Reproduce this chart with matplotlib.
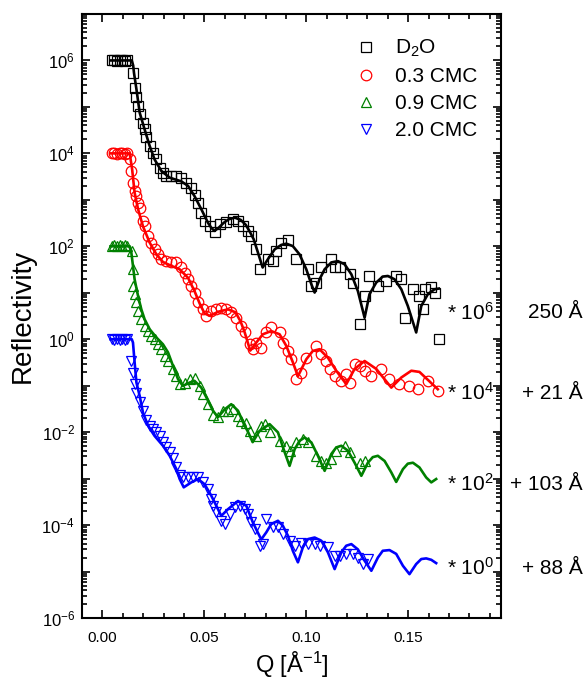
import numpy as np
import matplotlib
matplotlib.use("Agg")
import matplotlib.pyplot as plt
import matplotlib.ticker as ticker

plt.rcParams['font.family'] = ['Liberation Sans', 'DejaVu Sans']
plt.rcParams['mathtext.fontset'] = 'custom'
plt.rcParams['mathtext.rm'] = 'Liberation Sans'
plt.rcParams['mathtext.default'] = 'regular'

# --- measured data (already multiplied by the offsets shown on the right) ---
q_d2o = [0.0045, 0.0058, 0.0071, 0.0084, 0.0097, 0.0110, 0.0123, 0.0150, 0.0158, 0.0167,
         0.0175, 0.0183, 0.0199, 0.0207, 0.0216, 0.0232, 0.0248, 0.0265, 0.0281, 0.0297,
         0.0314, 0.0338, 0.0363, 0.0387, 0.0412, 0.0436, 0.0452, 0.0469, 0.0485, 0.0501,
         0.0526, 0.0550, 0.0575, 0.0608, 0.0640, 0.0665, 0.0689, 0.0714, 0.0730, 0.0755,
         0.0771, 0.0812, 0.0836, 0.0853, 0.0877, 0.0910, 0.0951, 0.1008, 0.1025, 0.1049,
         0.1074, 0.1123, 0.1139, 0.1163, 0.1212, 0.1228, 0.1261, 0.1286, 0.1310, 0.1351,
         0.1392, 0.1441, 0.1466, 0.1482, 0.1523, 0.1555, 0.1572, 0.1580, 0.1613, 0.1629,
         0.1650]
r_d2o = [1.0e6, 1.0e6, 0.98e6, 1.0e6, 1.0e6, 0.98e6, 1.0e6, 5.4e5, 2.6e5, 1.6e5,
         1.04e5, 6.9e4, 4.6e4, 3.3e4, 2.2e4, 1.44e4, 1.04e4, 7.4e3, 4.9e3, 3.8e3,
         3.3e3, 3.3e3, 3.2e3, 3.0e3, 2.3e3, 1.8e3, 1.3e3, 870, 530, 350,
         270, 200, 300, 330, 380, 350, 270, 210, 170, 86,
         33, 53, 48, 79, 120, 140, 53, 32, 14, 16.6,
         35, 53, 35, 35, 25, 16.6, 2.1, 8.5, 23, 14,
         18, 23, 19.5, 2.9, 11.9, 8.5, 4.4, 11.9, 13, 10,
         1.0]

q_03 = [0.0045, 0.0058, 0.0071, 0.0084, 0.0097, 0.0110, 0.0123, 0.0134, 0.0142, 0.0150,
        0.0158, 0.0167, 0.0175, 0.0183, 0.0199, 0.0207, 0.0224, 0.0240, 0.0256, 0.0273,
        0.0289, 0.0314, 0.0338, 0.0363, 0.0387, 0.0403, 0.0420, 0.0436, 0.0452, 0.0469,
        0.0493, 0.0510, 0.0534, 0.0559, 0.0583, 0.0608, 0.0632, 0.0657, 0.0681, 0.0698,
        0.0722, 0.0738, 0.0755, 0.0779, 0.0804, 0.0828, 0.0869, 0.0885, 0.0910, 0.0926,
        0.0951, 0.0975, 0.1000, 0.1049, 0.1074, 0.1098, 0.1114, 0.1139, 0.1172, 0.1196,
        0.1212, 0.1237, 0.1261, 0.1286, 0.1319, 0.1368, 0.1408, 0.1457, 0.1506, 0.1547,
        0.1596, 0.1645]
r_03 = [1.0e4, 1.0e4, 0.98e4, 1.0e4, 1.0e4, 0.98e4, 1.0e4, 7.4e3, 4.2e3, 2.3e3,
        1.55e3, 1.2e3, 870, 680, 350, 270, 170, 120, 86, 67,
        53, 48, 45, 46, 35, 27, 19.5, 14, 10, 6.2,
        4.4, 3.2, 4.1, 4.4, 4.8, 4.4, 3.8, 2.9, 1.9, 1.4,
        0.78, 0.61, 0.85, 0.66, 1.4, 1.8, 1.4, 0.85, 0.56, 0.37,
        0.138, 0.19, 0.40, 0.72, 0.48, 0.34, 0.23, 0.16, 0.127, 0.18,
        0.117, 0.29, 0.27, 0.21, 0.16, 0.23, 0.138, 0.108, 0.099, 0.084,
        0.127, 0.077]

q_09 = [0.0045, 0.0058, 0.0071, 0.0084, 0.0097, 0.0110, 0.0123, 0.0145, 0.0149, 0.0150,
        0.0158, 0.0167, 0.0175, 0.0191, 0.0207, 0.0224, 0.0240, 0.0256, 0.0273, 0.0289,
        0.0305, 0.0322, 0.0346, 0.0363, 0.0379, 0.0403, 0.0428, 0.0452, 0.0477, 0.0493,
        0.0518, 0.0542, 0.0567, 0.0591, 0.0616, 0.0640, 0.0665, 0.0681, 0.0702, 0.0722,
        0.0755, 0.0779, 0.0796, 0.0820, 0.0869, 0.0902, 0.0918, 0.0951, 0.0983, 0.1008,
        0.1049, 0.1074, 0.1098, 0.1123, 0.1147, 0.1188, 0.1212, 0.1261, 0.1286]
r_09 = [100, 105, 100, 105, 100, 105, 100, 79, 32, 14,
        9.3, 6.2, 4.1, 2.7, 1.9, 1.5, 1.18, 1.0, 0.78, 0.61,
        0.44, 0.34, 0.23, 0.16, 0.108, 0.117, 0.138, 0.15, 0.099, 0.066,
        0.040, 0.024, 0.021, 0.029, 0.029, 0.031, 0.022, 0.0175, 0.0156, 0.0107,
        0.0083, 0.0137, 0.0149, 0.0099, 0.0065, 0.0051, 0.0040, 0.0060, 0.0071, 0.0060,
        0.0031, 0.0024, 0.0022, 0.0026, 0.0040, 0.0051, 0.0037, 0.0022, 0.0024]

q_20 = [0.0045, 0.0058, 0.0071, 0.0084, 0.0097, 0.0110, 0.0123, 0.0142, 0.0150, 0.0158,
        0.0167, 0.0183, 0.0199, 0.0216, 0.0232, 0.0247, 0.0261, 0.0281, 0.0297, 0.0314,
        0.0330, 0.0346, 0.0363, 0.0379, 0.0395, 0.0420, 0.0444, 0.0469, 0.0493, 0.0518,
        0.0534, 0.0542, 0.0559, 0.0583, 0.0600, 0.0624, 0.0649, 0.0673, 0.0698, 0.0714,
        0.0730, 0.0747, 0.0771, 0.0787, 0.0804, 0.0836, 0.0861, 0.0885, 0.0918, 0.0943,
        0.0975, 0.1008, 0.1041, 0.1065, 0.1106, 0.1139, 0.1163, 0.1196, 0.1228, 0.1253,
        0.1277, 0.1302]
r_20 = [1.0, 0.98, 1.0, 0.98, 1.0, 0.98, 1.0, 0.34, 0.19, 0.108,
        0.071, 0.045, 0.028, 0.018, 0.0137, 0.0116, 0.0099, 0.0083, 0.0062, 0.0049,
        0.0038, 0.0028, 0.00174, 0.00119, 0.00106, 0.00106, 0.00106, 0.00106, 0.00083, 0.00059,
        0.00036, 0.00026, 0.00019, 0.000124, 0.000105, 0.000173, 0.00024, 0.00026, 0.00022, 0.000173,
        0.000114, 8.2e-5, 3.6e-5, 3.9e-5, 1.35e-4, 8.9e-5, 8.9e-5, 6.4e-5, 4.6e-5, 3.6e-5,
        4.2e-5, 3.9e-5, 3.9e-5, 3.6e-5, 3.3e-5, 2.2e-5, 2.2e-5, 2.4e-5, 2.4e-5, 2.0e-5,
        1.45e-5, 1.86e-5]

# --- model fits ---
qf_d2o = [0.0040, 0.0144, 0.0151, 0.0155, 0.0167, 0.0183, 0.0207, 0.0232, 0.0256, 0.0289,
          0.0330, 0.0387, 0.0420, 0.0452, 0.0485, 0.0518, 0.0536, 0.0550, 0.0570, 0.0595,
          0.0619, 0.0649, 0.0678, 0.0703, 0.0722, 0.0742, 0.0761, 0.0786, 0.0812, 0.0845,
          0.0877, 0.0902, 0.0934, 0.0967, 0.1000, 0.1025, 0.1041, 0.1065, 0.1090, 0.1123,
          0.1155, 0.1188, 0.1221, 0.1253, 0.1286, 0.1310, 0.1343, 0.1375, 0.1400, 0.1433,
          0.1466, 0.1498, 0.1539, 0.1564, 0.1596, 0.1629, 0.1650]
rf_d2o = [1.0e6, 1.0e6, 7.8e5, 5.4e5, 2.4e5, 7.5e4, 3.3e4, 1.44e4, 7.4e3, 4.2e3,
          3.0e3, 2.5e3, 2.0e3, 1.2e3, 630, 320, 244, 215, 250, 320,
          381, 414, 372, 290, 210, 142, 78, 35, 53, 86,
          107, 114, 101, 67, 32, 15.2, 10.1, 19.5, 32, 45,
          48, 41, 25, 10.9, 2.9, 9.3, 16.6, 22.3, 23, 19.5,
          11.9, 5.2, 1.4, 5.2, 9.3, 11.9, 12.3]

qf_03 = [0.0040, 0.0134, 0.0146, 0.0158, 0.0175, 0.0199, 0.0232, 0.0265, 0.0297, 0.0338,
         0.0379, 0.0420, 0.0452, 0.0477, 0.0501, 0.0526, 0.0546, 0.0567, 0.0616, 0.0653,
         0.0678, 0.0698, 0.0725, 0.0755, 0.0787, 0.0828, 0.0869, 0.0902, 0.0934, 0.0959,
         0.1000, 0.1032, 0.1065, 0.1106, 0.1147, 0.1196, 0.1237, 0.1286, 0.1343, 0.1417,
         0.1466, 0.1515, 0.1555, 0.1645]
rf_03 = [1.0e4, 1.0e4, 4.5e3, 1.43e3, 630, 270, 120, 67, 46, 38,
         32, 21, 10.8, 5.9, 3.6, 3.2, 3.5, 3.9, 4.4, 3.8,
         2.4, 1.4, 0.57, 0.85, 1.28, 1.5, 1.28, 0.72, 0.32, 0.16,
         0.37, 0.56, 0.61, 0.40, 0.21, 0.108, 0.23, 0.34, 0.23, 0.091,
         0.15, 0.21, 0.198, 0.084]

qf_09 = [0.0040, 0.0134, 0.0142, 0.0150, 0.0158, 0.0175, 0.0191, 0.0207, 0.0232, 0.0265,
         0.0297, 0.0322, 0.0346, 0.0371, 0.0395, 0.0428, 0.0452, 0.0485, 0.0510, 0.0542,
         0.0567, 0.0600, 0.0632, 0.0665, 0.0698, 0.0715, 0.0737, 0.0771, 0.0820, 0.0861,
         0.0894, 0.0918, 0.0943, 0.0967, 0.0992, 0.1025, 0.1057, 0.1090, 0.1123, 0.1147,
         0.1172, 0.1204, 0.1237, 0.1270, 0.1302, 0.1326, 0.1351, 0.1384, 0.1417, 0.1441,
         0.1474, 0.1498, 0.1523, 0.1555, 0.1588, 0.1613, 0.1637]
rf_09 = [100, 100, 73, 38, 19.5, 8.5, 4.4, 2.7, 1.64, 1.09,
         0.78, 0.52, 0.27, 0.138, 0.099, 0.117, 0.127, 0.091, 0.056, 0.029,
         0.021, 0.031, 0.040, 0.029, 0.0137, 0.0100, 0.0061, 0.0107, 0.0149, 0.0099,
         0.0037, 0.00188, 0.0043, 0.0065, 0.0077, 0.0060, 0.0031, 0.00147, 0.0034, 0.0047,
         0.0051, 0.0040, 0.0022, 0.00115, 0.0022, 0.0029, 0.0031, 0.0024, 0.00136, 0.00085,
         0.0016, 0.0021, 0.0022, 0.00174, 0.00106, 0.00083, 0.00098]

qf_20 = [0.0040, 0.0144, 0.0150, 0.0158, 0.0167, 0.0183, 0.0199, 0.0224, 0.0256, 0.0297,
         0.0330, 0.0363, 0.0379, 0.0399, 0.0436, 0.0469, 0.0501, 0.0534, 0.0567, 0.0583,
         0.0616, 0.0665, 0.0706, 0.0738, 0.0779, 0.0804, 0.0828, 0.0861, 0.0885, 0.0910,
         0.0934, 0.0959, 0.0983, 0.1008, 0.1041, 0.1074, 0.1106, 0.1139, 0.1172, 0.1196,
         0.1221, 0.1253, 0.1286, 0.1319, 0.1351, 0.1375, 0.1408, 0.1441, 0.1474, 0.1506,
         0.1539, 0.1564, 0.1588, 0.1613, 0.1637]
rf_20 = [1.0, 1.0, 0.85, 0.32, 0.117, 0.060, 0.0265, 0.0137, 0.0083, 0.0051,
         0.0031, 0.0016, 0.00098, 0.00065, 0.00083, 0.00098, 0.00076, 0.00043, 0.00022, 0.000158,
         0.00022, 0.00033, 0.00026, 0.000114, 4.9e-5, 7.0e-5, 1.05e-4, 1.24e-4, 9.7e-5, 5.9e-5,
         2.8e-5, 1.58e-5, 3.3e-5, 5.0e-5, 5.4e-5, 4.6e-5, 2.6e-5, 1.13e-5, 2.6e-5, 3.6e-5,
         3.9e-5, 3.0e-5, 1.71e-5, 1.04e-5, 2.0e-5, 2.8e-5, 2.9e-5, 2.4e-5, 1.33e-5, 8.8e-6,
         1.45e-5, 1.86e-5, 1.92e-5, 1.79e-5, 1.52e-5]

labels = ['D$_2$O', '0.3 CMC', '0.9 CMC', '2.0 CMC']
colors = ['black', '#ff0000', '#008000', '#0000ff']
markers = ['s', 'o', '^', 'v']
scales = ['* 10$^6$', '* 10$^4$', '* 10$^2$', '* 10$^0$']
thick = ['250 Å', '+ 21 Å', '+ 103 Å', '+ 88 Å']

series = [(q_d2o, r_d2o, qf_d2o, rf_d2o), (q_03, r_03, qf_03, rf_03),
          (q_09, r_09, qf_09, rf_09), (q_20, r_20, qf_20, rf_20)]

fig = plt.figure(figsize=(5.84, 6.82), dpi=100)
ax = fig.add_axes([0.1404, 0.0938, 0.7175, 0.8857])

msize = [6.8, 7.6, 7.6, 7.6]
for (q, r, qf, rf), lab, c, m, ms in zip(series, labels, colors, markers, msize):
    ax.plot(q, r, ls='none', marker=m, ms=ms, mfc='none', mec=c, mew=0.9,
            label=lab, zorder=2)
    ax.plot(qf, rf, color=c, lw=1.9, solid_joinstyle='round', zorder=3)

ax.set_yscale('log')
ax.set_xlim(-0.01, 0.1955)
ax.set_ylim(1e-6, 1e7)

ax.xaxis.set_major_locator(ticker.MultipleLocator(0.05))
ax.xaxis.set_minor_locator(ticker.MultipleLocator(0.01))
ax.xaxis.set_major_formatter(ticker.FormatStrFormatter('%.2f'))
ax.yaxis.set_major_locator(ticker.LogLocator(base=10, numticks=30))
ax.yaxis.set_minor_locator(ticker.LogLocator(base=10, subs=np.arange(2, 10), numticks=30))


def even_decades(v, pos):
    e = int(round(np.log10(v)))
    return f'$10^{{{e}}}$' if e % 2 == 0 else ''


ax.yaxis.set_major_formatter(ticker.FuncFormatter(even_decades))
ax.yaxis.set_minor_formatter(ticker.NullFormatter())

ax.tick_params(which='both', direction='in', top=True, right=True, width=1.2)
ax.tick_params(which='major', length=6, labelsize=11)
ax.tick_params(axis='y', which='major', labelsize=12, pad=5)
ax.tick_params(axis='x', which='major', pad=9)
ax.tick_params(which='minor', length=3.5)
for s in ax.spines.values():
    s.set_linewidth(1.5)

ax.set_xlabel('Q [Å$^{-1}$]', fontsize=17, labelpad=4)
ax.set_ylabel('Reflectivity', fontsize=20, labelpad=4)

ax.legend(loc='upper left', bbox_to_anchor=(356 / 584, 1 - 38 / 682),
          bbox_transform=fig.transFigure, frameon=False, fontsize=15,
          handlelength=1.0, handletextpad=0.85, labelspacing=0.38,
          borderpad=0, borderaxespad=0)

# offset factors and fitted layer thicknesses
ys = [313, 393, 484, 568]
for y, sc, th in zip(ys, scales, thick):
    fig.text(447 / 584, 1 - y / 682, sc, fontsize=15, ha='left', va='center')
    fig.text(583 / 584, 1 - y / 682, th, fontsize=15, ha='right', va='center')

fig.savefig('out.png', dpi=100)
